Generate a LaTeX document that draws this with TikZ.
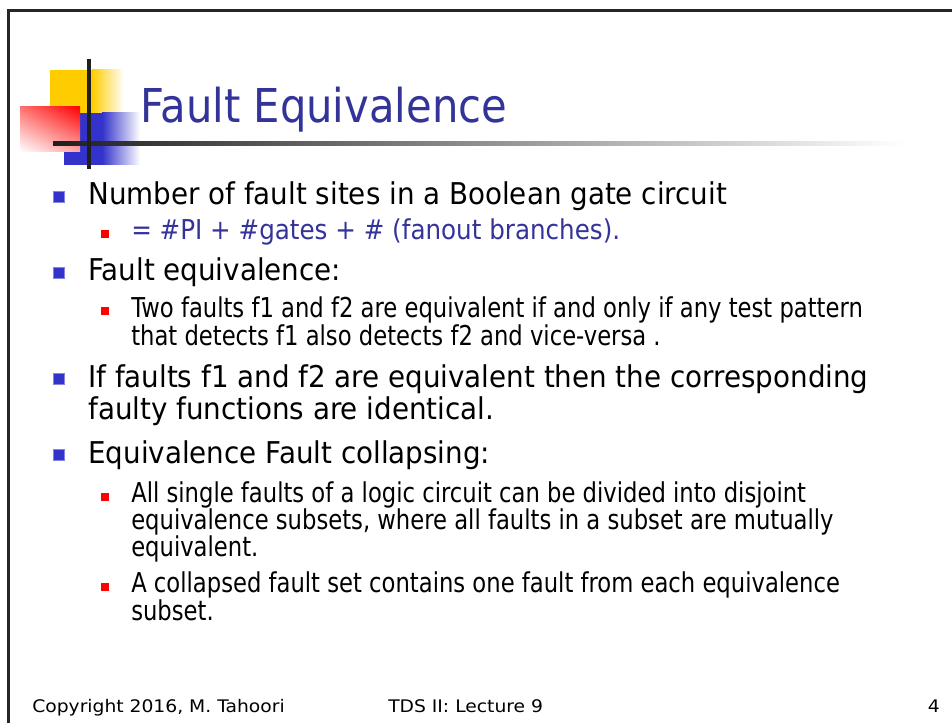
\documentclass[tikz,border=0pt]{standalone}
\usepackage{fontspec}
\usetikzlibrary{shadings}
\setmainfont[FakeStretch=0.85]{DejaVu Sans}
\newfontfamily\titlefont[FakeStretch=0.894]{DejaVu Sans}
\newfontfamily\lonefont[FakeStretch=0.925]{DejaVu Sans}
\newfontfamily\ltwofont[FakeStretch=0.83]{DejaVu Sans}
\newfontfamily\lsubfont[FakeStretch=0.90]{DejaVu Sans}
\newfontfamily\footfont[FakeStretch=1.08]{DejaVu Sans}
\definecolor{titleblue}{HTML}{333399}
\definecolor{bulblue}{HTML}{3333CC}
\definecolor{logoyellow}{HTML}{FFCC00}
\tikzset{
  lone/.style={anchor=base west, inner sep=0pt, font=\lonefont\fontsize{22.5}{24}\selectfont},
  ltwo/.style={anchor=base west, inner sep=0pt, font=\ltwofont\fontsize{20.5}{22}\selectfont},
  bone/.style={fill=bulblue, draw=bulblue!60, line width=0.4pt, minimum size=8pt, inner sep=0pt},
  btwo/.style={fill=red, minimum size=6pt, inner sep=0pt},
  foot/.style={anchor=base west, inner sep=0pt, font=\footfont\fontsize{13}{15}\selectfont},
}
\begin{document}
\begin{tikzpicture}[x=0.75pt, y=-0.75pt]
\useasboundingbox (0,0) rectangle (952,723);
% slide frame
\draw[line width=1.9pt, black!85] (8.5,723) -- (8.5,10.5) -- (952,10.5);
% logo
\fill[logoyellow] (50,70) rectangle (92,114);
\shade[left color=logoyellow, right color=white] (92,70) rectangle (124,114);
\fill[bulblue] (64,113) rectangle (102,165);
\shade[left color=bulblue, right color=white] (102,113) rectangle (140,165);
\shade[upper right=red, upper left=red!55, lower right=red!35, lower left=white] (20,107) rectangle (80,152);
\shade[left color=black!88, right color=white] (53,142) rectangle (905,146);
\fill[black!88] (87,59) rectangle (90.5,169);
% title
\node[anchor=base west, inner sep=0pt, text=titleblue, font=\titlefont\fontsize{35}{40}\selectfont] (title) at (140,123) {Fault Equivalence};
% bullets
\node[bone] (b1) at (58.5,196.5) {};
\node[lone] (t1) at (88,205) {Number of fault sites in a Boolean gate circuit};
\node[btwo] (b11) at (105,234.5) {};
\node[ltwo, font=\lsubfont\fontsize{20.5}{22}\selectfont, text=titleblue] (t11) at (131,240) {= \#PI + \#gates + \# (fanout branches).};
\node[bone] (b2) at (58.5,272.5) {};
\node[lone] (t2) at (88,281) {Fault equivalence:};
\node[btwo] (b21) at (105,311.5) {};
\node[ltwo] (t21a) at (131,317) {Two faults f1 and f2 are equivalent if and only if any test pattern};
\node[ltwo] (t21b) at (131,345) {that detects f1 also detects f2 and vice-versa .};
\node[bone] (b3) at (58.5,378.5) {};
\node[lone] (t3a) at (88,387) {If faults f1 and f2 are equivalent then the corresponding};
\node[lone] (t3b) at (88,419) {faulty functions are identical.};
\node[bone] (b4) at (58.5,454.5) {};
\node[lone] (t4) at (88,463) {Equivalence Fault collapsing:};
\node[btwo] (b41) at (105,496.5) {};
\node[ltwo] (t41a) at (131,502) {All single faults of a logic circuit can be divided into disjoint};
\node[ltwo] (t41b) at (131,529) {equivalence subsets, where all faults in a subset are mutually};
\node[ltwo] (t41c) at (131,556) {equivalent.};
\node[btwo] (b42) at (105,586.5) {};
\node[ltwo] (t42a) at (131,592) {A collapsed fault set contains one fault from each equivalence};
\node[ltwo] (t42b) at (131,620) {subset.};
% footer
\node[foot] (f1) at (32,712) {Copyright 2016, M. Tahoori};
\node[foot] (f2) at (388,712) {TDS II: Lecture 9};
\node[foot, anchor=base east] (f3) at (940,712) {4};
\end{tikzpicture}
\end{document}
